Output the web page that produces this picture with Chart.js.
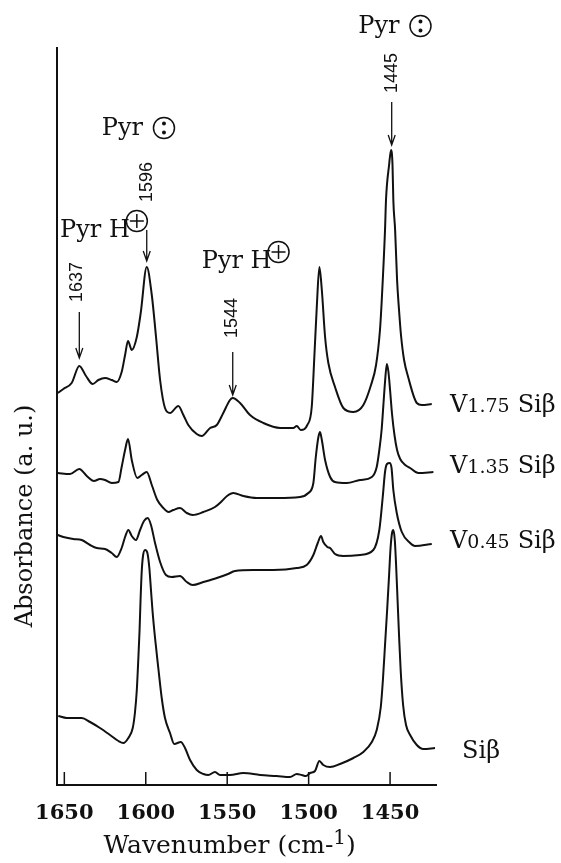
<!DOCTYPE html>
<html>
<head>
<meta charset="utf-8">
<script src="https://cdn.jsdelivr.net/npm/chart.js@4.4.1/dist/chart.umd.min.js"></script>
<style>
  html, body { margin: 0; padding: 0; background: #fff; }
</style>
</head>
<body>
<canvas id="myChart" width="561" height="863"></canvas>
<script>
// wavenumber axis
const tickVals = [1650, 1600, 1550, 1500, 1450];

// V1.75 Siβ
const wnV175 = [1654.0, 1650.6, 1645.5, 1640.8, 1636.7, 1632.6, 1629.1, 1625.0, 1620.9, 1617.8,
  1614.8, 1612.7, 1610.9, 1608.6, 1605.5, 1603.1, 1599.4, 1596.3, 1593.7, 1591.2,
  1588.2, 1585.1, 1580.0, 1576.9, 1573.9, 1568.7, 1565.6, 1560.5, 1556.4, 1552.4,
  1548.3, 1546.6, 1542.1, 1536.0, 1527.8, 1517.5, 1509.4, 1507.3, 1504.8, 1500.8,
  1498.1, 1496.5, 1495.0, 1493.4, 1491.9, 1489.9, 1487.9, 1483.8, 1478.7, 1472.5,
  1466.4, 1461.7, 1458.6, 1456.2, 1455.1, 1453.1, 1452.5, 1450.6, 1449.4, 1448.5,
  1448.0, 1446.9, 1445.7, 1444.5, 1443.3, 1441.4, 1438.9, 1433.6, 1430.5, 1424.4];
const absV175 = [3.92, 3.96, 4.02, 4.19, 4.09, 4.01, 4.05, 4.07, 4.05, 4.03,
  4.13, 4.30, 4.44, 4.35, 4.48, 4.72, 5.18, 4.90, 4.48, 4.05,
  3.77, 3.72, 3.79, 3.70, 3.60, 3.51, 3.49, 3.57, 3.60, 3.72,
  3.85, 3.87, 3.82, 3.70, 3.62, 3.57, 3.57, 3.59, 3.55, 3.60,
  3.78, 4.28, 4.78, 5.18, 4.95, 4.48, 4.22, 3.98, 3.77, 3.73,
  3.80, 4.00, 4.20, 4.55, 4.85, 5.55, 5.85, 6.20, 6.35, 6.20,
  5.85, 5.55, 5.05, 4.75, 4.50, 4.25, 4.08, 3.82, 3.80, 3.81];

// V1.35 Siβ
const wnV135 = [1654.0, 1646.5, 1640.8, 1636.2, 1631.8, 1628.1, 1625.0, 1620.9, 1616.8, 1614.8,
  1612.7, 1610.9, 1608.6, 1605.2, 1602.5, 1599.4, 1596.3, 1592.9, 1589.2, 1586.1,
  1583.1, 1579.0, 1574.8, 1571.2, 1564.6, 1557.5, 1553.2, 1550.1, 1546.2, 1540.1,
  1531.9, 1519.6, 1505.3, 1500.2, 1497.1, 1495.6, 1494.0, 1493.0, 1491.9, 1489.9,
  1486.8, 1483.8, 1476.6, 1468.4, 1461.2, 1458.2, 1456.6, 1455.2, 1454.1, 1453.1,
  1452.0, 1451.0, 1449.9, 1448.8, 1447.3, 1445.7, 1443.8, 1440.7, 1437.7, 1432.6,
  1423.4];
const absV135 = [3.12, 3.11, 3.16, 3.09, 3.04, 3.06, 3.05, 3.02, 3.03, 3.18,
  3.35, 3.46, 3.25, 3.07, 3.10, 3.13, 3.00, 2.85, 2.77, 2.73,
  2.75, 2.77, 2.72, 2.70, 2.73, 2.78, 2.84, 2.89, 2.92, 2.89,
  2.87, 2.87, 2.88, 2.92, 3.02, 3.28, 3.48, 3.53, 3.45, 3.25,
  3.08, 3.03, 3.02, 3.05, 3.08, 3.18, 3.35, 3.55, 3.80, 4.03,
  4.21, 4.13, 3.93, 3.71, 3.50, 3.35, 3.26, 3.20, 3.17, 3.12,
  3.13];

// V0.45 Siβ
const wnV045 = [1654.0, 1650.6, 1644.5, 1639.3, 1634.2, 1630.1, 1625.0, 1620.9, 1617.8, 1614.8,
  1612.7, 1610.7, 1608.6, 1606.0, 1603.5, 1601.1, 1598.8, 1596.8, 1594.3, 1591.2,
  1587.6, 1584.1, 1579.0, 1574.8, 1571.2, 1564.6, 1556.4, 1549.5, 1545.2, 1534.0,
  1521.7, 1507.3, 1501.2, 1497.1, 1494.4, 1492.4, 1491.0, 1488.5, 1486.8, 1483.8,
  1478.7, 1468.4, 1460.3, 1456.6, 1454.5, 1453.1, 1451.9, 1450.3, 1449.1, 1448.0,
  1445.9, 1442.8, 1437.7, 1434.7, 1424.4];
const absV045 = [2.50, 2.48, 2.46, 2.45, 2.40, 2.37, 2.36, 2.32, 2.28, 2.37,
  2.48, 2.55, 2.49, 2.45, 2.55, 2.64, 2.67, 2.60, 2.42, 2.23,
  2.10, 2.08, 2.09, 2.03, 2.00, 2.03, 2.07, 2.11, 2.14, 2.15,
  2.15, 2.17, 2.20, 2.30, 2.42, 2.49, 2.43, 2.38, 2.37, 2.31,
  2.29, 2.30, 2.35, 2.55, 2.88, 3.13, 3.21, 3.22, 3.17, 2.95,
  2.72, 2.53, 2.42, 2.39, 2.41];

// Siβ
const wnSi = [1653.7, 1648.5, 1639.3, 1634.2, 1628.1, 1621.9, 1616.8, 1613.8, 1610.7, 1608.0,
  1606.6, 1605.5, 1604.6, 1603.8, 1603.2, 1602.5, 1601.7, 1600.4, 1599.0, 1597.8,
  1596.8, 1595.8, 1594.3, 1592.3, 1590.2, 1588.2, 1585.1, 1582.5, 1578.5, 1575.9,
  1572.8, 1568.7, 1564.6, 1561.6, 1557.5, 1554.4, 1548.3, 1540.1, 1529.8, 1519.6,
  1511.4, 1507.3, 1504.2, 1501.6, 1499.1, 1496.1, 1493.4, 1491.0, 1486.8, 1480.7,
  1472.5, 1466.4, 1461.2, 1458.2, 1455.7, 1454.4, 1453.1, 1451.8, 1450.6, 1449.7,
  1448.8, 1448.0, 1447.1, 1446.3, 1445.4, 1444.5, 1443.5, 1442.0, 1440.2, 1437.7,
  1433.6, 1429.6, 1422.4];
const absSi = [0.69, 0.67, 0.67, 0.63, 0.57, 0.50, 0.44, 0.42, 0.47, 0.57,
  0.73, 0.95, 1.25, 1.55, 1.85, 2.13, 2.29, 2.35, 2.32, 2.17,
  1.95, 1.73, 1.47, 1.17, 0.87, 0.67, 0.52, 0.41, 0.43, 0.37,
  0.25, 0.15, 0.11, 0.10, 0.13, 0.10, 0.10, 0.12, 0.10, 0.09,
  0.08, 0.11, 0.10, 0.09, 0.12, 0.14, 0.24, 0.20, 0.18, 0.21,
  0.27, 0.33, 0.43, 0.55, 0.78, 1.05, 1.40, 1.75, 2.10, 2.37,
  2.52, 2.55, 2.45, 2.20, 1.85, 1.50, 1.15, 0.80, 0.60, 0.50,
  0.40, 0.36, 0.37];

const seriesWn = [wnV175, wnV135, wnV045, wnSi];
const seriesAbs = [absV175, absV135, absV045, absSi];
const seriesLoad = ['1.75', '1.35', '0.45', ''];

// labels, anchored in data units (wavenumber, absorbance)
const peakMarks = [
  { label: '1637', textWn: 1642.4, textAbs: 5.03, wn: 1640.8, from: 4.73, to: 4.27 },
  { label: '1596', textWn: 1599.4, textAbs: 6.03, wn: 1599.4, from: 5.55, to: 5.24 },
  { label: '1544', textWn: 1547.2, textAbs: 4.67, wn: 1546.6, from: 4.33, to: 3.90 },
  { label: '1445', textWn: 1449.0, textAbs: 7.12, wn: 1449.0, from: 6.83, to: 6.40 }
];
const species = [
  { text: 'Pyr', kind: 'lone', wn: 1469.5, abs: 7.52 },
  { text: 'Pyr', kind: 'lone', wn: 1627.0, abs: 6.50 },
  { text: 'Pyr H', kind: 'plus', wn: 1652.6, abs: 5.48 },
  { text: 'Pyr H', kind: 'plus', wn: 1565.6, abs: 5.17 }
];
const sampleLabelWn = [1413.2, 1413.2, 1413.2, 1405.8];
const sampleLabelAbs = [3.73, 3.12, 2.37, 0.27];

const SERIF = '"DejaVu Serif", serif';

const annotate = {
  id: 'annotate',
  afterDraw(chart) {
    const { ctx, chartArea, scales: { x, y } } = chart;
    ctx.save();
    ctx.fillStyle = '#111';
    ctx.strokeStyle = '#111';

    // tick marks point inward
    ctx.lineWidth = 1.5;
    tickVals.forEach(v => {
      const px = x.getPixelForValue(v);
      ctx.beginPath();
      ctx.moveTo(px, chartArea.bottom);
      ctx.lineTo(px, chartArea.bottom - 13);
      ctx.stroke();
    });

    // peak wavenumbers + arrows
    ctx.font = '18px "Liberation Sans", sans-serif';
    ctx.textAlign = 'center';
    ctx.textBaseline = 'middle';
    peakMarks.forEach(p => {
      ctx.save();
      ctx.translate(x.getPixelForValue(p.textWn), y.getPixelForValue(p.textAbs));
      ctx.rotate(-Math.PI / 2);
      ctx.fillText(p.label, 0, 0);
      ctx.restore();
      const ax = x.getPixelForValue(p.wn);
      const y0 = y.getPixelForValue(p.from);
      const y1 = y.getPixelForValue(p.to);
      ctx.lineWidth = 1.3;
      ctx.beginPath();
      ctx.moveTo(ax, y0);
      ctx.lineTo(ax, y1);
      ctx.moveTo(ax - 3.5, y1 - 10);
      ctx.lineTo(ax, y1);
      ctx.lineTo(ax + 3.5, y1 - 10);
      ctx.stroke();
    });

    // Pyr (lone pair) / Pyr H (+)
    ctx.font = '24px ' + SERIF;
    ctx.textAlign = 'left';
    ctx.textBaseline = 'alphabetic';
    species.forEach(s => {
      const lx = x.getPixelForValue(s.wn);
      const by = y.getPixelForValue(s.abs);
      ctx.fillText(s.text, lx, by);
      const w = ctx.measureText(s.text).width;
      ctx.lineWidth = 1.5;
      if (s.kind === 'lone') {
        const cx = lx + w + 21, cy = by - 7;
        ctx.beginPath();
        ctx.arc(cx, cy, 10.5, 0, Math.PI * 2);
        ctx.stroke();
        ctx.beginPath();
        ctx.arc(cx, cy - 4.5, 2, 0, Math.PI * 2);
        ctx.arc(cx, cy + 4.5, 2, 0, Math.PI * 2);
        ctx.fill();
      } else {
        const cx = lx + w + 7, cy = by - 16;
        ctx.beginPath();
        ctx.arc(cx, cy, 10.5, 0, Math.PI * 2);
        ctx.moveTo(cx - 7, cy);
        ctx.lineTo(cx + 7, cy);
        ctx.moveTo(cx, cy - 7);
        ctx.lineTo(cx, cy + 7);
        ctx.stroke();
      }
    });

    // sample names on the right
    seriesLoad.forEach((load, i) => {
      let lx = x.getPixelForValue(sampleLabelWn[i]);
      const by = y.getPixelForValue(sampleLabelAbs[i]);
      if (load) {
        ctx.font = '24px ' + SERIF;
        ctx.fillText('V', lx, by);
        lx += ctx.measureText('V').width;
        ctx.font = '19px ' + SERIF;
        ctx.fillText(load, lx, by);
        lx += ctx.measureText(load).width + 8;
      }
      ctx.font = '24px ' + SERIF;
      ctx.fillText('Siβ', lx, by);
    });

    // axis titles
    ctx.font = '25px ' + SERIF;
    let tx = chartArea.left + 46.5;
    const tb = chartArea.bottom + 68;
    ctx.fillText('Wavenumber (cm-', tx, tb);
    tx += ctx.measureText('Wavenumber (cm-').width;
    ctx.font = '20px ' + SERIF;
    ctx.fillText('1', tx, tb - 9);
    tx += ctx.measureText('1').width;
    ctx.font = '25px ' + SERIF;
    ctx.fillText(')', tx, tb);

    ctx.font = '24px ' + SERIF;
    ctx.save();
    ctx.translate(chartArea.left - 25, chartArea.top + 468);
    ctx.rotate(-Math.PI / 2);
    ctx.textAlign = 'center';
    ctx.fillText('Absorbance (a. u.)', 0, 0);
    ctx.restore();

    ctx.restore();
  }
};

const ctx = document.querySelector('#myChart');

const datasets = seriesWn.map((wn, i) => ({
  label: 'V' + seriesLoad[i] + ' Siβ',
  data: wn.map((w, j) => ({ x: w, y: seriesAbs[i][j] })),
  borderColor: '#111',
  borderWidth: 2,
  pointRadius: 0,
  fill: false,
  cubicInterpolationMode: 'monotone'
}));

new Chart(ctx, {
  type: 'line',
  data: { datasets: datasets },
  options: {
    responsive: false,
    animation: false,
    events: [],
    layout: { padding: { top: 48, right: 125, left: 0, bottom: 0 } },
    plugins: {
      legend: { display: false },
      tooltip: { enabled: false }
    },
    scales: {
      x: {
        type: 'linear',
        reverse: true,
        min: 1421.8,
        max: 1654.5,
        afterBuildTicks: s => { s.ticks = tickVals.map(v => ({ value: v })); },
        afterFit: s => { s.height = 78; },
        grid: { display: false, drawTicks: false },
        border: { display: true, color: '#111', width: 2 },
        ticks: {
          color: '#111',
          padding: 16,
          autoSkip: false,
          maxRotation: 0,
          font: { family: 'DejaVu Serif', size: 21, weight: 'bold' },
          callback: v => String(v)
        }
      },
      y: {
        min: 0,
        max: 7.37,
        afterFit: s => { s.width = 57; },
        grid: { display: false, drawTicks: false },
        border: { display: true, color: '#111', width: 2 },
        ticks: { display: false }
      }
    }
  },
  plugins: [annotate]
});
</script>
</body>
</html>
